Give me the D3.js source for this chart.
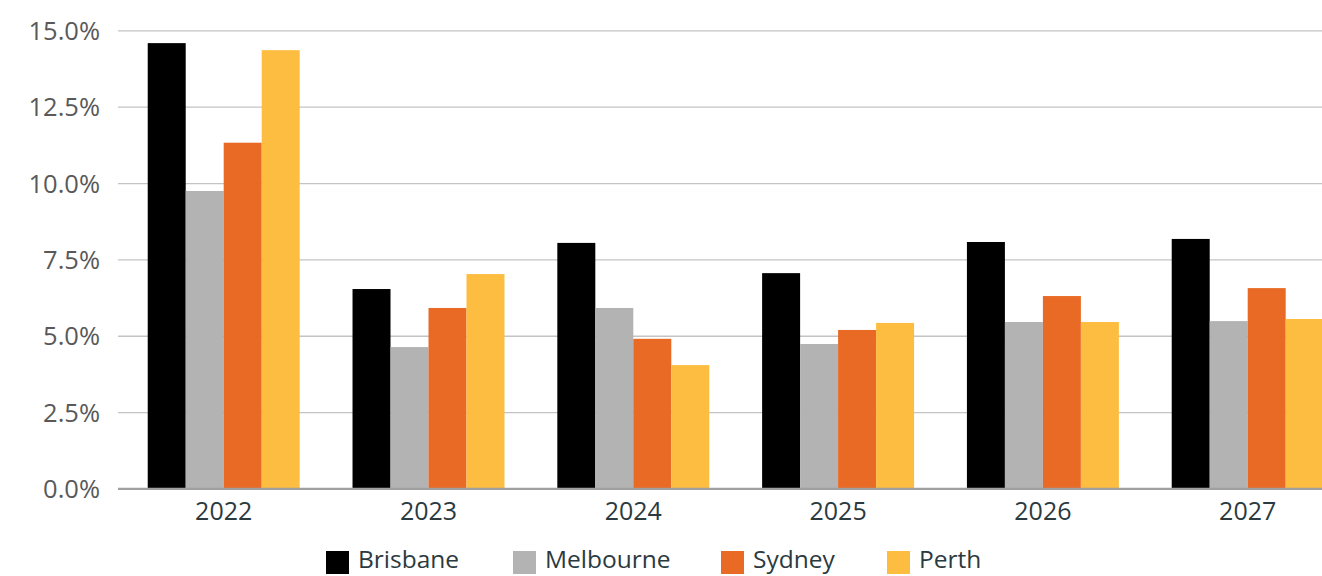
<!DOCTYPE html>
<html>
<head>
<meta charset="utf-8">
<script src="https://cdn.jsdelivr.net/npm/d3@7"></script>
<style>
  html, body { margin: 0; padding: 0; background: #fff; }
  svg { display: block; }
  text { font-family: "Open Sans", "Noto Sans", sans-serif; }
</style>
</head>
<body>
<svg id="chart" width="1322" height="576"></svg>
<script>
const years = ["2022", "2023", "2024", "2025", "2026", "2027"];
const seriesNames = ["Brisbane", "Melbourne", "Sydney", "Perth"];
const brisbane  = [14.58, 6.53, 8.04, 7.05, 8.07, 8.17];
const melbourne = [9.74, 4.63, 5.91, 4.73, 5.45, 5.48];
const sydney    = [11.32, 5.91, 4.90, 5.19, 6.30, 6.56];
const perth     = [14.35, 7.02, 4.04, 5.42, 5.45, 5.55];
const yTicks = [0, 2.5, 5, 7.5, 10, 12.5, 15];
const colors = ["#000000", "#b3b3b3", "#e86a25", "#fdbd40"];

const seriesValues = [brisbane, melbourne, sydney, perth];
const data = years.map((y, i) => ({
  year: y,
  values: seriesNames.map((s, j) => ({ key: s, value: seriesValues[j][i] }))
}));

const svg = d3.select("#chart");
const plotLeft = 118, plotRight = 1322;

const y = d3.scaleLinear().domain([0, 15]).range([488.5, 30.3]);

const x0 = d3.scaleBand()
  .domain(years)
  .range([121.3, 121.3 + 6 * 204.8])
  .paddingInner(0.258)
  .paddingOuter(0.129);

const x1 = d3.scaleBand()
  .domain(seriesNames)
  .range([0, x0.bandwidth()])
  .padding(0);

const color = d3.scaleOrdinal().domain(seriesNames).range(colors);

// gridlines
const yAxis = d3.axisLeft(y)
  .tickValues(yTicks)
  .tickSize(-(plotRight - plotLeft))
  .tickPadding(18)
  .tickFormat(d => d3.format(".1f")(d) + "%");

const gy = svg.append("g")
  .attr("transform", `translate(${plotLeft},0)`)
  .call(yAxis);
gy.select(".domain").remove();
gy.selectAll(".tick line")
  .attr("stroke", d => d === 0 ? "#a0a0a0" : "#c4c4c4")
  .attr("stroke-width", d => d === 0 ? 2 : 1.3);
gy.selectAll(".tick text")
  .attr("fill", "#595959")
  .attr("font-size", "25.5px")
  .attr("dy", "0.36em");

// bars
const groups = svg.append("g")
  .selectAll("g")
  .data(data)
  .join("g")
  .attr("transform", d => `translate(${x0(d.year)},0)`);

groups.selectAll("rect")
  .data(d => d.values)
  .join("rect")
  .attr("x", d => x1(d.key))
  .attr("y", d => y(d.value))
  .attr("width", x1.bandwidth())
  .attr("height", d => y(0) - y(d.value))
  .attr("fill", d => color(d.key));

// baseline redraw over bars
svg.append("line")
  .attr("x1", plotLeft).attr("x2", plotRight)
  .attr("y1", y(0)).attr("y2", y(0))
  .attr("stroke", "#a0a0a0").attr("stroke-width", 1.5);

// x axis labels
const xAxis = d3.axisBottom(x0).tickSize(0).tickPadding(14);
const gx = svg.append("g")
  .attr("transform", `translate(0,${y(0)})`)
  .call(xAxis);
gx.select(".domain").remove();
gx.selectAll(".tick text")
  .attr("fill", "#2b3a3f")
  .attr("font-size", "25px");

// legend
const legendX = [326, 513, 721, 887];
const legend = svg.append("g");
seriesNames.forEach((s, i) => {
  legend.append("rect")
    .attr("x", legendX[i]).attr("y", 551)
    .attr("width", 23).attr("height", 23)
    .attr("fill", color(s));
  legend.append("text")
    .attr("x", legendX[i] + 32).attr("y", 568)
    .attr("fill", "#2b3a3f")
    .attr("font-size", "24.5px")
    .text(s);
});
</script>
</body>
</html>
